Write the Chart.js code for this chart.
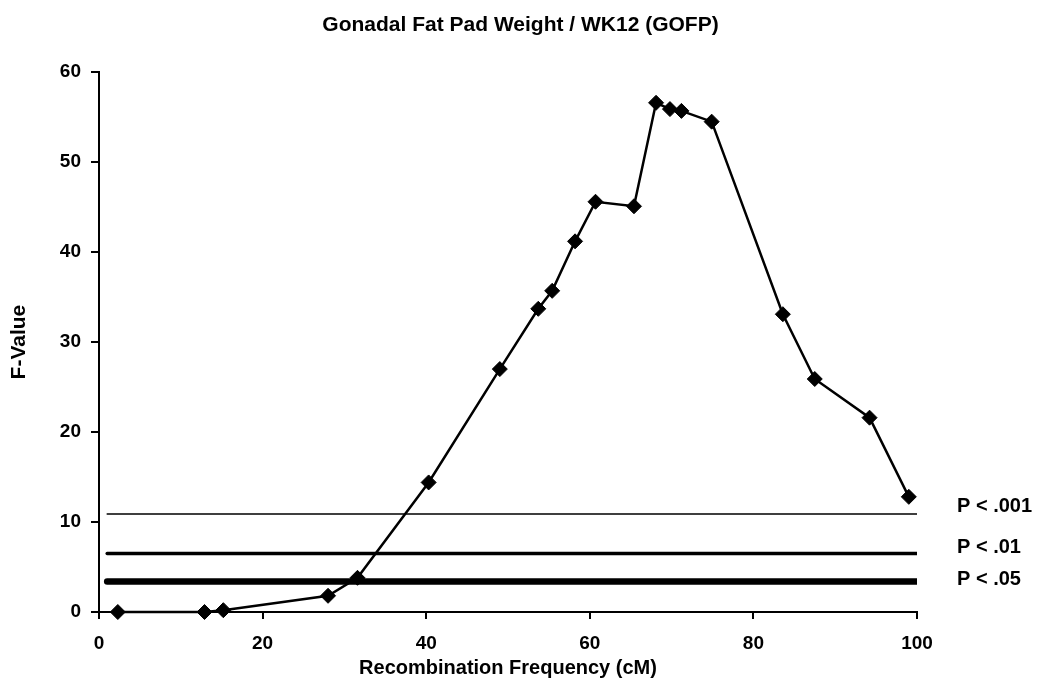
<!DOCTYPE html>
<html>
<head>
<meta charset="utf-8">
<title>Gonadal Fat Pad Weight / WK12 (GOFP)</title>
<script src="https://cdn.jsdelivr.net/npm/chart.js@4.4.0/dist/chart.umd.min.js"></script>
<style>
  html, body { margin: 0; padding: 0; background: #fff; }
  #wrap { width: 1041px; height: 684px; }
</style>
</head>
<body>
<div id="wrap"><canvas id="chart"></canvas></div>
<script>
// ------------------------
// DATA
// ------------------------
const positions = [2.3, 12.9, 15.2, 28.0, 31.6, 40.3, 49.0, 53.7, 55.4, 58.2,
                   60.7, 65.4, 68.1, 69.8, 71.2, 74.9, 83.6, 87.5, 94.2, 99.0];
const fValues = [0, 0, 0.2, 1.8, 3.8, 14.4, 27.0, 33.7, 35.7, 41.2,
                 45.6, 45.1, 56.6, 55.9, 55.7, 54.5, 33.1, 25.9, 21.6, 12.8];

const thresholdLabels = ["P < .001", "P < .01", "P < .05"];
const thresholdValues = [10.9, 6.5, 3.4];
const thresholdStart = 1;
const thresholdEnd = 100;

const xTickValues = [0, 20, 40, 60, 80, 100];
const yTickValues = [0, 10, 20, 30, 40, 50, 60];

const chartTitle = "Gonadal Fat Pad Weight / WK12 (GOFP)";
const xTitle = "Recombination Frequency (cM)";
const yTitle = "F-Value";

// ------------------------
// STYLE
// ------------------------
const FONT = "'Liberation Sans', Arial, sans-serif";
const thresholdWidths = [1.5, 3.5, 6.5];
const labelShift = [-7, -6, -2];

// ------------------------
// DATASETS
// ------------------------
const mainSeries = {
  label: "F-Value",
  data: positions.map((x, i) => ({ x: x, y: fValues[i] })),
  borderColor: "#000",
  backgroundColor: "#000",
  borderWidth: 2.5,
  pointStyle: "rectRot",
  pointRadius: 7.5,
  pointBorderWidth: 1,
  tension: 0,
  clip: false
};

const thresholdSets = thresholdValues.map((v, i) => ({
  label: thresholdLabels[i],
  data: [{ x: thresholdStart, y: v }, { x: thresholdEnd, y: v }],
  borderColor: "#000",
  borderWidth: thresholdWidths[i],
  pointRadius: 0,
  borderCapStyle: "round"
}));

// ------------------------
// THRESHOLD LABELS PLUGIN
// ------------------------
const thresholdLabelPlugin = {
  id: "thresholdLabels",
  afterDatasetsDraw(chart) {
    const ctx = chart.ctx;
    const yScale = chart.scales.y;
    ctx.save();
    ctx.fillStyle = "#000";
    ctx.font = "bold 20px " + FONT;
    ctx.textAlign = "left";
    ctx.textBaseline = "middle";
    thresholdValues.forEach((v, i) => {
      ctx.fillText(thresholdLabels[i], 957, yScale.getPixelForValue(v) + labelShift[i]);
    });
    ctx.restore();
  }
};

// ------------------------
// CHART
// ------------------------
Chart.defaults.font.family = FONT;
Chart.defaults.color = "#000";

new Chart(document.getElementById("chart"), {
  type: "line",
  data: { datasets: [mainSeries, ...thresholdSets] },
  options: {
    responsive: true,
    maintainAspectRatio: false,
    animation: false,
    layout: { padding: 0 },
    plugins: {
      legend: { display: false },
      tooltip: { enabled: false },
      title: {
        display: true,
        text: chartTitle,
        color: "#000",
        font: { size: 21, weight: "bold", family: FONT },
        padding: { top: 13, bottom: 34 }
      }
    },
    scales: {
      x: {
        type: "linear",
        min: 0,
        max: 100,
        afterBuildTicks: s => { s.ticks = xTickValues.map(v => ({ value: v })); },
        afterFit: s => { s.height = 72; },
        ticks: {
          color: "#000",
          padding: 13,
          maxRotation: 0,
          font: { size: 19, weight: "bold", family: FONT }
        },
        grid: {
          drawOnChartArea: false,
          drawTicks: true,
          tickLength: 7,
          color: "#000",
          lineWidth: 2
        },
        border: { display: true, color: "#000", width: 2 },
        title: {
          display: true,
          text: xTitle,
          color: "#000",
          font: { size: 20, weight: "bold", family: FONT },
          padding: { top: 0, bottom: 4 }
        }
      },
      y: {
        type: "linear",
        min: 0,
        max: 60,
        afterBuildTicks: s => { s.ticks = yTickValues.map(v => ({ value: v })); },
        afterFit: s => { s.width = 99; },
        ticks: {
          color: "#000",
          padding: 10,
          font: { size: 19, weight: "bold", family: FONT }
        },
        grid: {
          drawOnChartArea: false,
          drawTicks: true,
          tickLength: 8,
          color: "#000",
          lineWidth: 2
        },
        border: { display: true, color: "#000", width: 2 },
        title: {
          display: true,
          text: yTitle,
          color: "#000",
          font: { size: 21, weight: "bold", family: FONT },
          padding: { top: 7, bottom: 0 }
        }
      },
      yRight: {
        type: "linear",
        position: "right",
        min: 0,
        max: 60,
        display: true,
        afterFit: s => { s.width = 124; },
        ticks: { display: false },
        grid: { display: false, drawOnChartArea: false },
        border: { display: false }
      }
    }
  },
  plugins: [thresholdLabelPlugin]
});
</script>
</body>
</html>
